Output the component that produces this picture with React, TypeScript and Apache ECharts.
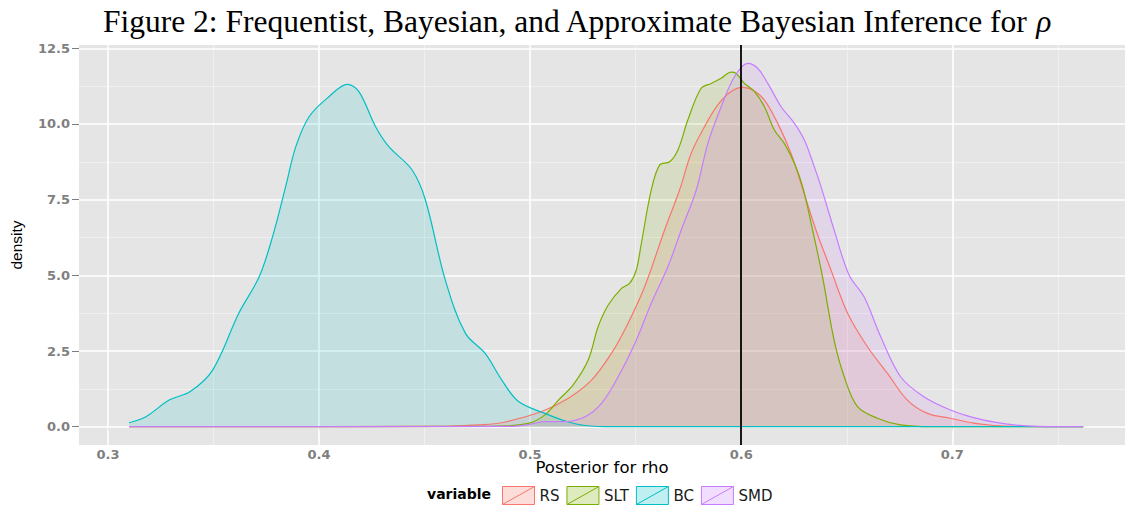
import React, { useEffect, useRef } from "react";
import * as echarts from "echarts";

// ---- data ----
const xTicks = [0.3, 0.4, 0.5, 0.6, 0.7];
const xMinor = [0.35, 0.45, 0.55, 0.65, 0.75];
const yTicks = [0, 2.5, 5, 7.5, 10, 12.5];
const yMinor = [1.25, 3.75, 6.25, 8.75, 11.25];
const refValue = 0.6;

const seriesNames = ["RS", "SLT", "BC", "SMD"];

const rsX = [0.31, 0.46, 0.475, 0.4866, 0.5055, 0.5181, 0.5291, 0.5385, 0.5464, 0.5543, 0.5637, 0.5708, 0.5763, 0.5826, 0.5889, 0.5952, 0.6007, 0.6055, 0.611, 0.6173, 0.6236, 0.6283, 0.6354, 0.6425, 0.6504, 0.6598, 0.6693, 0.6787, 0.6882, 0.6991, 0.71, 0.72, 0.73, 0.762];
const rsY = [0, 0.01, 0.06, 0.13, 0.5, 0.94, 1.54, 2.42, 3.42, 4.63, 6.5, 7.82, 9.03, 9.91, 10.63, 11.07, 11.21, 11.12, 10.79, 10.02, 9.03, 8.04, 6.5, 5.18, 3.75, 2.64, 1.76, 0.88, 0.44, 0.28, 0.12, 0.04, 0.01, 0];

const sltX = [0.31, 0.48, 0.4992, 0.507, 0.5134, 0.5204, 0.5275, 0.5322, 0.537, 0.5433, 0.5472, 0.5503, 0.5527, 0.5574, 0.5614, 0.5661, 0.57, 0.5747, 0.581, 0.5858, 0.5905, 0.5952, 0.5976, 0.6015, 0.6063, 0.611, 0.6157, 0.6204, 0.6252, 0.6291, 0.6338, 0.6385, 0.644, 0.6488, 0.6551, 0.6645, 0.6755, 0.69, 0.762];
const sltY = [0, 0.01, 0.11, 0.39, 0.88, 1.38, 2.2, 3.3, 4.02, 4.57, 4.74, 5.18, 6.06, 7.82, 8.65, 8.75, 9.14, 10.13, 11.18, 11.34, 11.51, 11.71, 11.67, 11.34, 11.07, 10.57, 9.8, 9.36, 8.7, 7.93, 6.5, 4.96, 2.86, 1.65, 0.66, 0.28, 0.06, 0, 0];

const bcX = [0.31, 0.318, 0.329, 0.339, 0.3496, 0.362, 0.3717, 0.378, 0.3842, 0.389, 0.3953, 0.4047, 0.4134, 0.4189, 0.4268, 0.4331, 0.4441, 0.4504, 0.4598, 0.4693, 0.4787, 0.4866, 0.4945, 0.507, 0.517, 0.526, 0.54, 0.762];
const bcY = [0.13, 0.33, 0.88, 1.16, 1.87, 3.75, 4.96, 6.28, 7.93, 9.25, 10.24, 10.9, 11.31, 11.07, 9.91, 9.25, 8.48, 7.49, 4.85, 3.09, 2.42, 1.54, 0.83, 0.44, 0.18, 0.04, 0, 0];

const smdX = [0.31, 0.49, 0.5, 0.507, 0.5165, 0.526, 0.5338, 0.5417, 0.5496, 0.5574, 0.5653, 0.5716, 0.5787, 0.5842, 0.5905, 0.5968, 0.6031, 0.6078, 0.6126, 0.6189, 0.6252, 0.6299, 0.6346, 0.6378, 0.644, 0.6511, 0.6582, 0.6661, 0.6755, 0.6865, 0.6991, 0.71, 0.72, 0.73, 0.74, 0.762];
const smdY = [0, 0.01, 0.08, 0.17, 0.17, 0.33, 0.77, 1.65, 2.75, 4.08, 5.29, 6.5, 7.82, 9.36, 10.57, 11.56, 12.0, 11.84, 11.34, 10.57, 10.02, 9.47, 8.59, 7.93, 6.5, 5.01, 4.29, 2.97, 1.65, 0.99, 0.55, 0.3, 0.15, 0.05, 0.01, 0];

const seriesXs = [rsX, sltX, bcX, smdX];
const seriesYs = [rsY, sltY, bcY, smdY];

// ---- styles ----
const colors = ["#F8766D", "#7CAE00", "#00BFC4", "#C77CFF"];
const fillAlpha = 0.2;

function hexToRgba(hex: string, a: number) {
  const n = parseInt(hex.slice(1), 16);
  return `rgba(${(n >> 16) & 255},${(n >> 8) & 255},${n & 255},${a})`;
}

const legendIcon = "path://M0,0 L32,0 L32,18 L0,18 Z M0,18 L32,0";

export default function App() {
  const ref = useRef<HTMLDivElement>(null);

  useEffect(() => {
    if (!ref.current) return;
    const chart = echarts.init(ref.current, null, { renderer: "svg" });

    const densitySeries = seriesNames.map((name, i) => ({
      name,
      type: "line",
      data: seriesXs[i].map((x, j) => [x, seriesYs[i][j]]),
      smooth: 0.35,
      symbol: "none",
      showSymbol: false,
      z: 3,
      lineStyle: { color: colors[i], width: 1.2 },
      itemStyle: { color: colors[i] },
      areaStyle: { color: hexToRgba(colors[i], fillAlpha) },
      markLine:
        i === seriesNames.length - 1
          ? {
              silent: true,
              symbol: "none",
              z: 10,
              label: { show: false },
              lineStyle: { color: "#000", width: 1.8, type: "solid" },
              data: [{ xAxis: refValue }],
            }
          : undefined,
    }));

    const gridSeries = {
      name: "grid",
      type: "line",
      data: [],
      z: 1,
      markLine: {
        silent: true,
        symbol: "none",
        z: 1,
        label: { show: false },
        animation: false,
        data: [
          ...xMinor.map((v) => ({ xAxis: v, lineStyle: { color: "#F2F2F2", width: 0.8, type: "solid" } })),
          ...yMinor.map((v) => ({ yAxis: v, lineStyle: { color: "#F2F2F2", width: 0.8, type: "solid" } })),
          ...xTicks.map((v) => ({ xAxis: v, lineStyle: { color: "#FFFFFF", width: 1.6, type: "solid" } })),
          ...yTicks.map((v) => ({ yAxis: v, lineStyle: { color: "#FFFFFF", width: 1.6, type: "solid" } })),
        ],
      },
    };

    const tickLabelStyle = {
      fontFamily: "DejaVu Sans",
      fontWeight: "bold",
      fontSize: 13,
      color: "#7F7F7F",
    };

    chart.setOption({
      animation: false,
      title: {
        text: "Figure 2: Frequentist, Bayesian, and Approximate Bayesian Inference for {i|ρ}",
        left: 98,
        top: 0,
        textStyle: {
          fontFamily: "Liberation Serif",
          fontWeight: "normal",
          fontSize: 31.5,
          color: "#000",
          rich: {
            i: { fontFamily: "Liberation Serif", fontStyle: "italic", fontSize: 31.5, color: "#000" },
          },
        },
      },
      grid: {
        left: 76,
        right: 0,
        top: 45,
        bottom: 65,
        show: true,
        backgroundColor: "#E5E5E5",
        borderWidth: 0,
      },
      xAxis: {
        type: "value",
        min: 0.2863,
        max: 0.7818,
        name: "Posterior for rho",
        nameLocation: "middle",
        nameMoveOverlap: false,
        nameGap: 14,
        nameTextStyle: { fontFamily: "DejaVu Sans", fontSize: 16.5, color: "#000" },
        axisLine: { show: false },
        splitLine: { show: false },
        axisTick: {
          show: true,
          customValues: xTicks,
          length: 4,
          lineStyle: { color: "#7F7F7F", width: 1 },
        },
        axisLabel: {
          customValues: xTicks,
          margin: 3,
          formatter: (v: number) => v.toFixed(1),
          ...tickLabelStyle,
        },
      },
      yAxis: {
        type: "value",
        min: -0.6046,
        max: 12.609,
        name: "density",
        nameLocation: "middle",
        nameMoveOverlap: false,
        nameRotate: 90,
        nameGap: 55,
        nameTextStyle: { fontFamily: "Liberation Sans Narrow, Liberation Sans", fontSize: 15.5, color: "#000" },
        axisLine: { show: false },
        splitLine: { show: false },
        axisTick: {
          show: true,
          customValues: yTicks,
          length: 7,
          lineStyle: { color: "#7F7F7F", width: 1 },
        },
        axisLabel: {
          customValues: yTicks,
          margin: 9,
          formatter: (v: number) => v.toFixed(1),
          ...tickLabelStyle,
        },
      },
      legend: {
        left: 497,
        top: 481,
        itemWidth: 32,
        itemHeight: 18,
        itemGap: 7,
        icon: legendIcon,
        textStyle: { fontFamily: "DejaVu Sans", fontSize: 15, color: "#1A1A1A" },
        data: seriesNames.map((name, i) => ({
          name,
          icon: legendIcon,
          itemStyle: {
            color: hexToRgba(colors[i], 0.25),
            borderColor: colors[i],
            borderWidth: 1,
          },
        })),
      },
      graphic: [
        {
          type: "text",
          left: 427,
          top: 487,
          style: {
            text: "variable",
            font: "bold 14px 'DejaVu Sans'",
            fill: "#000",
          },
        },
      ],
      series: [gridSeries, ...densitySeries],
    });

    return () => chart.dispose();
  }, []);

  return (
    <div
      ref={ref}
      style={{ position: "absolute", left: 0, top: 0, width: 1125, height: 510, background: "#fff" }}
    />
  );
}
